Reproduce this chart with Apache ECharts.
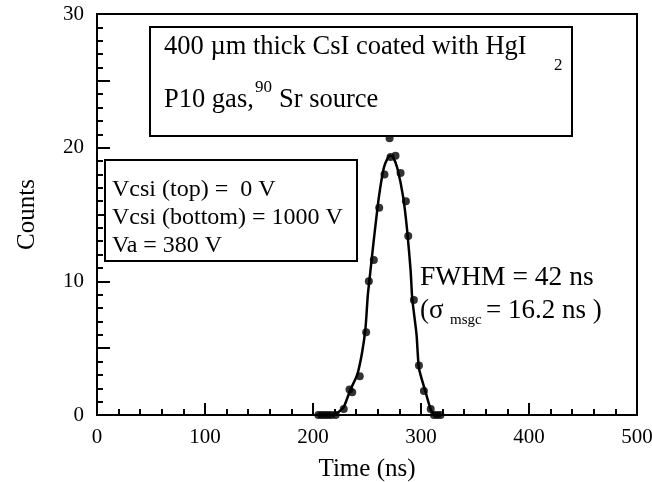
<!DOCTYPE html>
<html>
<head>
<meta charset="utf-8">
<script src="https://cdn.jsdelivr.net/npm/echarts@6/dist/echarts.min.js"></script>
<style>
  html, body { margin: 0; padding: 0; background: #fff; }
  #chart { width: 652px; height: 482px; }
</style>
</head>
<body>
<div id="chart"></div>
<script>
// measured points (dots)
const timeDots = [205, 208, 211, 214, 217, 221, 228.5, 233.8, 236.3, 243.3, 249.2, 251.7, 256.3, 261.3, 266.2, 270.9, 271.8, 276.4, 281.1, 286, 288.2, 293.4, 298.1, 302.7, 309, 312, 315, 318]
const countDots = [0, 0, 0, 0, 0, 0, 0.45, 1.9, 1.7, 2.9, 6.2, 10.0, 11.6, 15.5, 18.0, 20.7, 19.3, 19.4, 18.1, 16.0, 13.4, 8.6, 3.7, 1.8, 0.45, 0, 0, 0]

// fitted curve
const fitTime = [205, 215, 220, 224, 228.5, 234.7, 240.9, 245.5, 248.6, 250.8, 253.2, 256.3, 261, 265.6, 269, 271.2, 274, 278, 283.5, 287.2, 290.4, 291.9, 295.9, 298.1, 304.3, 309, 312, 318]
const fitCounts = [0, 0, 0.05, 0.25, 0.6, 1.9, 3.0, 4.7, 6.5, 9.0, 10.8, 13.1, 16.3, 18.5, 19.2, 19.4, 19.3, 18.5, 16.3, 13.8, 10.8, 8.7, 6.0, 3.5, 1.7, 0.4, 0.05, 0]

const xTicks = [0, 100, 200, 300, 400, 500]
const yTicks = [0, 10, 20, 30]

const serif = 'Liberation Serif'

const chart = echarts.init(document.getElementById('chart'))

function label(x, y, text, size) {
    return {
        type: 'text', x: x, y: y, z: 11,
        style: { text: text, font: size + 'px ' + serif, fill: '#000', textVerticalAlign: 'middle' }
    }
}

chart.setOption({
    animation: false,
    grid: {
        left: 97,
        right: 15,
        top: 14,
        bottom: 67,
        outerBoundsMode: 'none',
        containLabel: false,
        show: true,
        borderColor: '#000',
        borderWidth: 2
    },
    xAxis: {
        type: 'value',
        min: xTicks[0],
        max: xTicks[xTicks.length - 1],
        interval: 100,
        name: 'Time (ns)',
        nameLocation: 'middle',
        nameGap: 42,
        nameTextStyle: { fontFamily: serif, fontSize: 25, color: '#000' },
        axisLine: { lineStyle: { color: '#000', width: 2 } },
        axisTick: { inside: true, length: 12, lineStyle: { color: '#000', width: 2 } },
        minorTick: { show: true, splitNumber: 5, length: 6, lineStyle: { color: '#000', width: 2 } },
        splitLine: { show: false },
        axisLabel: { fontFamily: serif, fontSize: 21, color: '#000', margin: 12 }
    },
    yAxis: {
        type: 'value',
        min: yTicks[0],
        max: yTicks[yTicks.length - 1],
        interval: 5,
        name: 'Counts',
        nameLocation: 'middle',
        nameGap: 57,
        nameTextStyle: { fontFamily: serif, fontSize: 25, color: '#000' },
        axisLine: { lineStyle: { color: '#000', width: 2 } },
        axisTick: { inside: true, length: 13, lineStyle: { color: '#000', width: 2 } },
        minorTick: { show: true, splitNumber: 5, length: 6, lineStyle: { color: '#000', width: 2 } },
        splitLine: { show: false },
        axisLabel: {
            fontFamily: serif, fontSize: 21, color: '#000', margin: 13,
            padding: [6, 0, 0, 0],
            formatter: function(v) {
                return yTicks.indexOf(v) >= 0 ? String(v) : ''
            }
        }
    },
    series: [
        {
            name: 'fit',
            type: 'line',
            data: fitTime.map((t, i) => [t, fitCounts[i]]),
            showSymbol: false,
            smooth: 0.2,
            lineStyle: { color: '#000', width: 2.5 },
            z: 2
        },
        {
            name: 'data',
            type: 'scatter',
            data: timeDots.map((t, i) => [t, countDots[i]]),
            symbolSize: 8,
            itemStyle: { color: '#000' },
            z: 3
        }
    ],
    graphic: [
        // top box
        { type: 'rect', shape: { x: 150, y: 27, width: 422, height: 109 },
          style: { fill: '#fff', stroke: '#000', lineWidth: 2 }, z: 10 },
        label(164, 47, '400 µm thick CsI coated with HgI', 26.5),
        label(554, 66, '2', 17),
        label(164, 100, 'P10 gas,', 26.5),
        label(255, 88, '90', 17),
        label(279, 100, 'Sr source', 26.5),

        // voltage box
        { type: 'rect', shape: { x: 105, y: 160, width: 252, height: 101 },
          style: { fill: '#fff', stroke: '#000', lineWidth: 2 }, z: 10 },
        label(112, 190, 'Vcsi (top) =  0 V', 24),
        label(112, 218, 'Vcsi (bottom) = 1000 V', 24),
        label(112, 246, 'Va = 380 V', 24),

        // FWHM note
        label(420, 278, 'FWHM = 42 ns', 27.5),
        label(420, 311, '(σ', 27),
        label(450, 320, 'msgc', 15),
        label(486, 311, '= 16.2 ns )', 27)
    ]
})
</script>
</body>
</html>
